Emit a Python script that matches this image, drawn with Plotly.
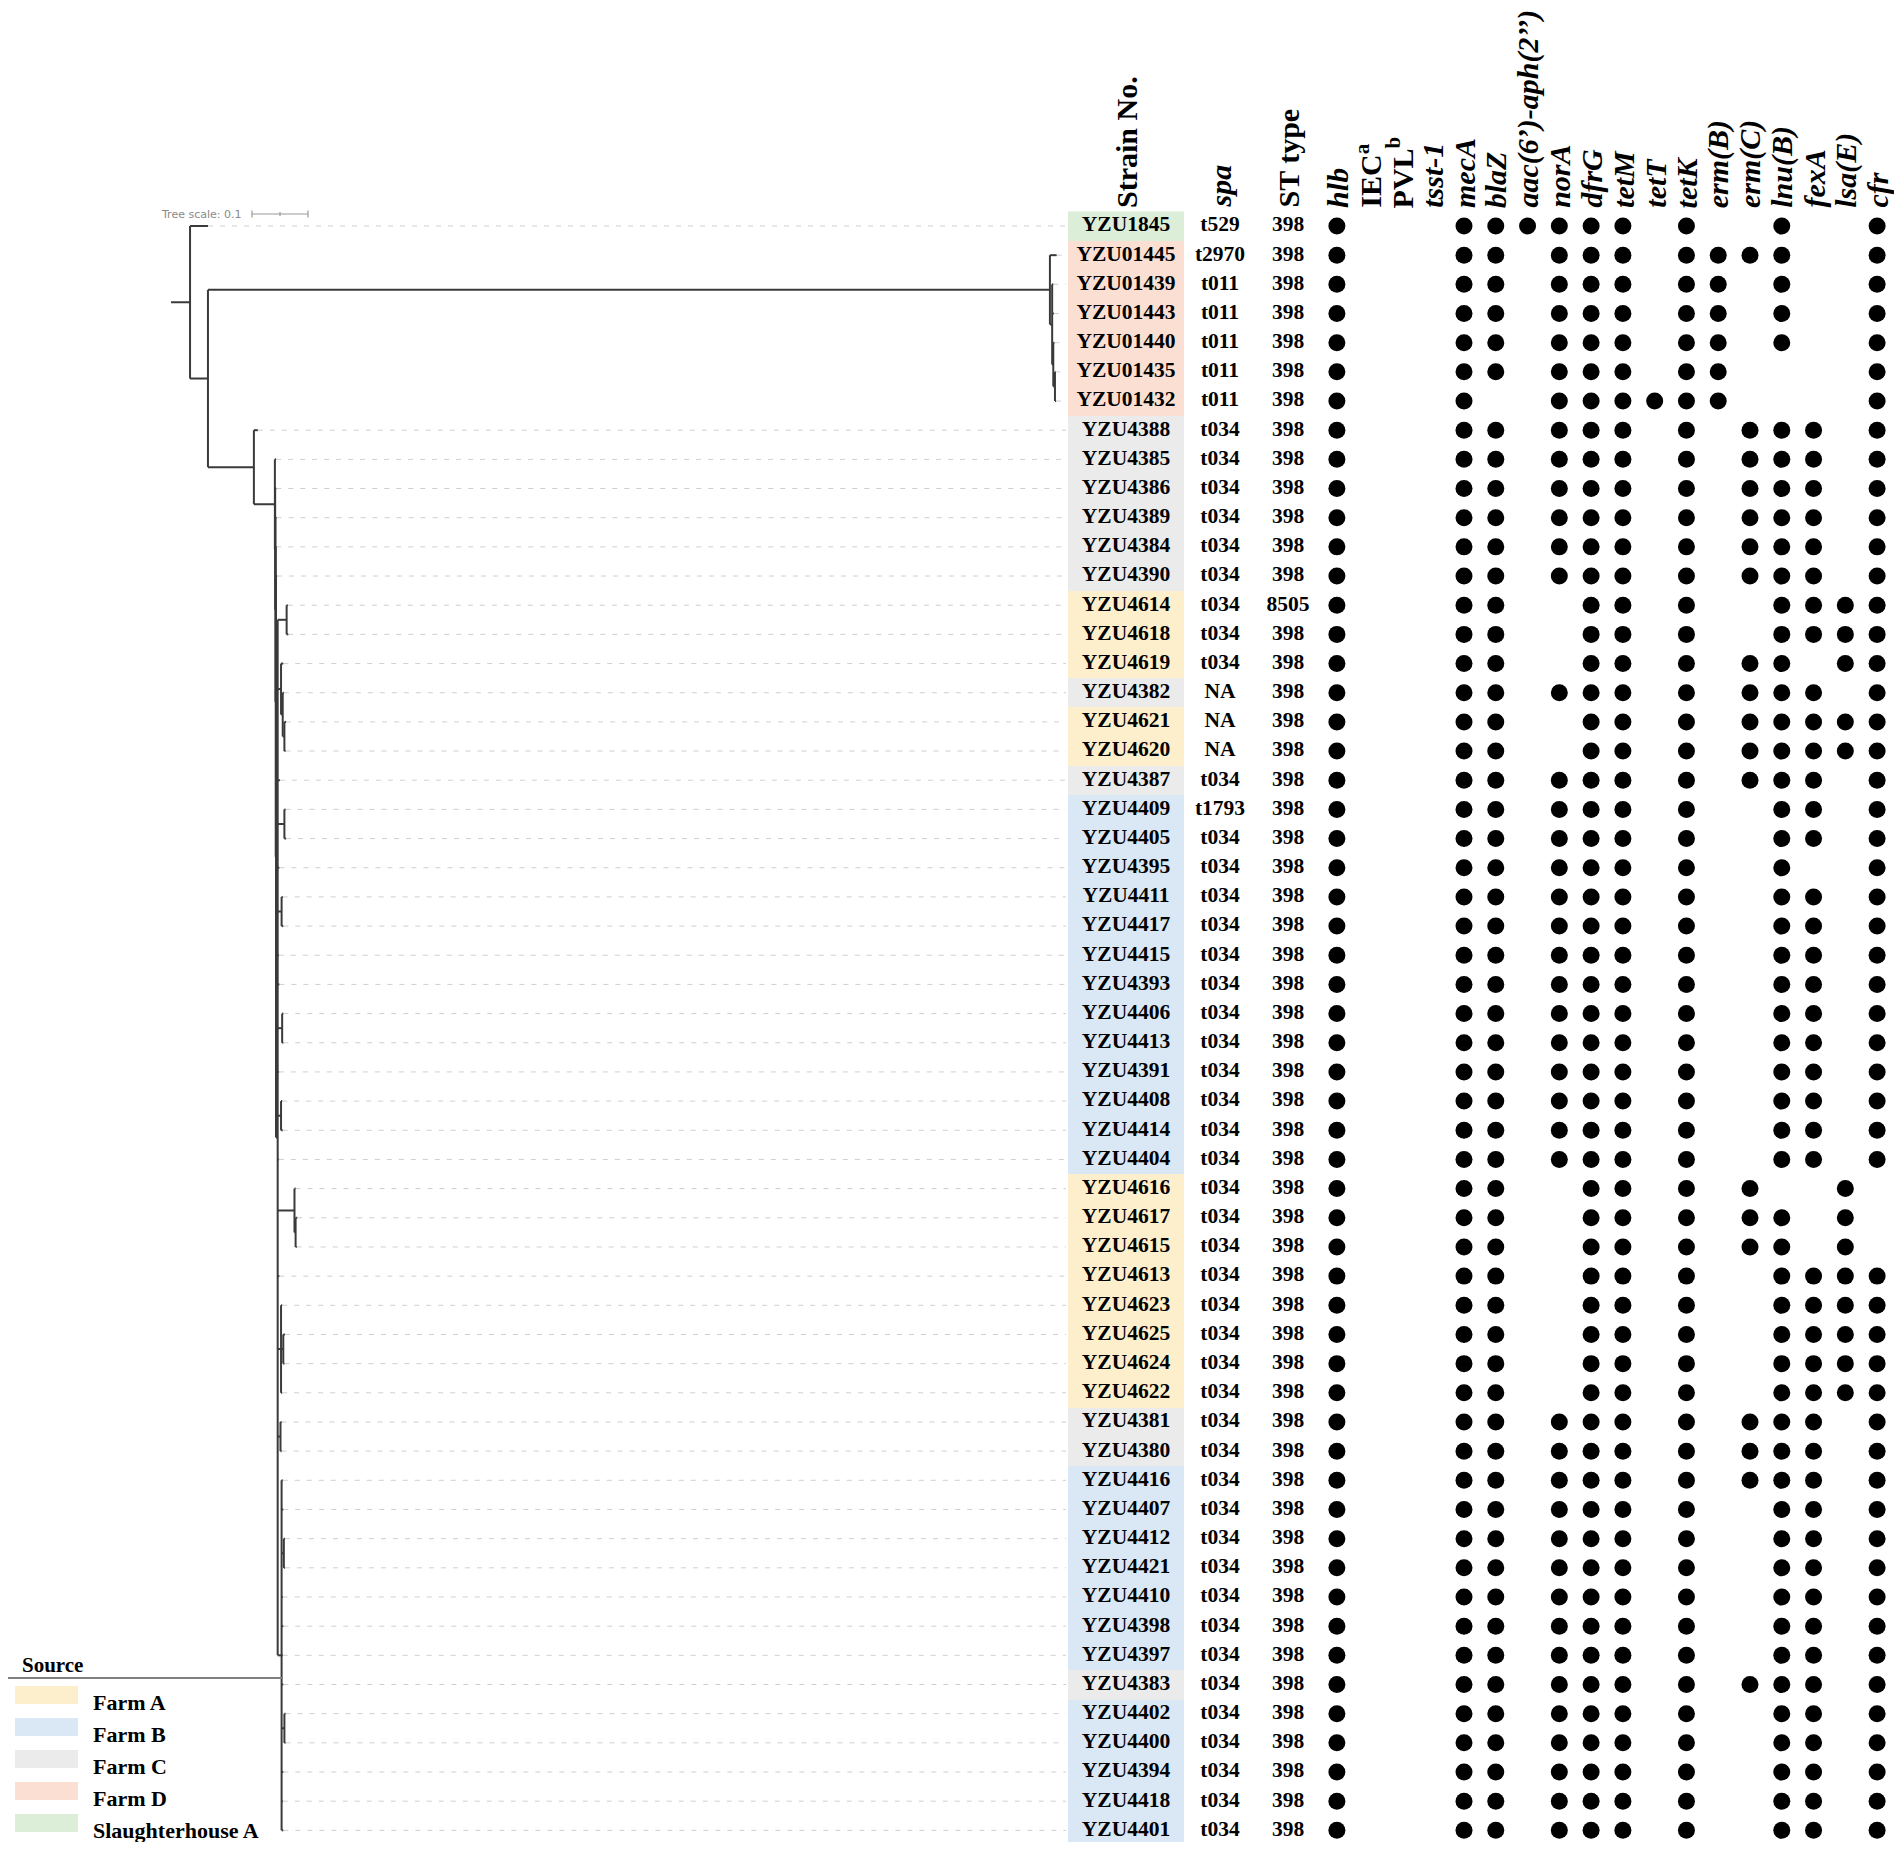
import plotly.graph_objects as go

# the page body adds an 8px margin, so the figure is a little smaller than the window
W, H = 1886, 1834
OFF = 8
SERIF = "Liberation Serif"


def fx(px):  # window pixel -> paper x
    return min(1.0, (px - OFF) / W)


def fy(py):  # window pixel -> paper y
    return 1 - (py - OFF) / H


# ---- data ---------------------------------------------------------------
strains = [
    "YZU1845", "YZU01445", "YZU01439", "YZU01443", "YZU01440", "YZU01435", "YZU01432",
    "YZU4388", "YZU4385", "YZU4386", "YZU4389", "YZU4384", "YZU4390",
    "YZU4614", "YZU4618", "YZU4619", "YZU4382", "YZU4621", "YZU4620", "YZU4387",
    "YZU4409", "YZU4405", "YZU4395", "YZU4411", "YZU4417", "YZU4415", "YZU4393",
    "YZU4406", "YZU4413", "YZU4391", "YZU4408", "YZU4414", "YZU4404",
    "YZU4616", "YZU4617", "YZU4615", "YZU4613", "YZU4623", "YZU4625", "YZU4624", "YZU4622",
    "YZU4381", "YZU4380", "YZU4416", "YZU4407", "YZU4412", "YZU4421", "YZU4410",
    "YZU4398", "YZU4397", "YZU4383", "YZU4402", "YZU4400", "YZU4394", "YZU4418", "YZU4401",
]

sources = (["Slaughterhouse A"] + ["Farm D"] * 6 + ["Farm C"] * 6 + ["Farm A"] * 3
           + ["Farm C"] + ["Farm A"] * 2 + ["Farm C"] + ["Farm B"] * 13 + ["Farm A"] * 8
           + ["Farm C"] * 2 + ["Farm B"] * 7 + ["Farm C"] + ["Farm B"] * 5)

spa_types = ["t529", "t2970"] + ["t011"] * 5 + ["t034"] * 9 + ["NA"] * 3 + ["t034", "t1793"] + ["t034"] * 35

st_types = ["398"] * 13 + ["8505"] + ["398"] * 42

genes = ["hlb", "IEC", "PVL", "tsst-1", "mecA", "blaZ", "aac(6')-aph(2'')", "norA", "dfrG",
         "tetM", "tetT", "tetK", "erm(B)", "erm(C)", "lnu(B)", "fexA", "lsa(E)", "cfr"]

gene_labels = ["<i>hlb</i>", "IEC<sup>a</sup>", "PVL<sup>b</sup>", "<i>tsst-1</i>", "<i>mecA</i>",
               "<i>blaZ</i>", "<i>aac(6’)-aph(2’’)</i>", "<i>norA</i>", "<i>dfrG</i>", "<i>tetM</i>",
               "<i>tetT</i>", "<i>tetK</i>", "<i>erm(B)</i>", "<i>erm(C)</i>", "<i>lnu(B)</i>",
               "<i>fexA</i>", "<i>lsa(E)</i>", "<i>cfr</i>"]

# presence (1) / absence (0) of each gene, one string per strain, same order as genes
profiles = [
    "100011111101001001",  # YZU1845
    "100011011101111001",  # YZU01445
    "100011011101101001",
    "100011011101101001",
    "100011011101101001",
    "100011011101100001",  # YZU01435
    "100010011111100001",  # YZU01432
    "100011011101011101",  # YZU4388
    "100011011101011101",
    "100011011101011101",
    "100011011101011101",
    "100011011101011101",
    "100011011101011101",  # YZU4390
    "100011001101001111",  # YZU4614
    "100011001101001111",
    "100011001101011011",  # YZU4619
    "100011011101011101",  # YZU4382
    "100011001101011111",  # YZU4621
    "100011001101011111",
    "100011011101011101",  # YZU4387
    "100011011101001101",  # YZU4409
    "100011011101001101",
    "100011011101001001",  # YZU4395
    "100011011101001101",  # YZU4411
    "100011011101001101",
    "100011011101001101",
    "100011011101001101",
    "100011011101001101",
    "100011011101001101",
    "100011011101001101",
    "100011011101001101",
    "100011011101001101",
    "100011011101001101",  # YZU4404
    "100011001101010010",  # YZU4616
    "100011001101011010",
    "100011001101011010",  # YZU4615
    "100011001101001111",  # YZU4613
    "100011001101001111",
    "100011001101001111",
    "100011001101001111",
    "100011001101001111",  # YZU4622
    "100011011101011101",  # YZU4381
    "100011011101011101",
    "100011011101011101",  # YZU4416
    "100011011101001101",  # YZU4407
    "100011011101001101",
    "100011011101001101",
    "100011011101001101",
    "100011011101001101",
    "100011011101001101",  # YZU4397
    "100011011101011101",  # YZU4383
    "100011011101001101",  # YZU4402
    "100011011101001101",
    "100011011101001101",
    "100011011101001101",
    "100011011101001101",  # YZU4401
]

source_names = ["Farm A", "Farm B", "Farm C", "Farm D", "Slaughterhouse A"]

tree_scale = 0.1

newick = (
    "(YZU1845:0.032,("
    "(YZU01445:0.012,(YZU01439:0.002,YZU01443:0.003,(YZU01440:0.002,"
    "(YZU01435:0.001,YZU01432:0.002):0.003):0.002):0.004):1.5035,"
    "(YZU4388:0.007,"
    "(YZU4385:0.002,(YZU4386:0.002,(YZU4389:0.002,(YZU4384:0.001,(YZU4390:0.002,"
    "((YZU4614:0.002,YZU4618:0.003):0.016,"
    "(YZU4619:0.004,(YZU4382:0.002,(YZU4621:0.003,YZU4620:0.002):0.003):0.003):0.006,"
    "YZU4387:0.004,"
    "(YZU4409:0.002,YZU4405:0.003):0.012,"
    "YZU4395:0.003,"
    "(YZU4411:0.002,YZU4417:0.003):0.007,"
    "YZU4415:0.002,"
    "YZU4393:0.003,"
    "(YZU4406:0.002,YZU4413:0.002):0.008,"
    "YZU4391:0.002,"
    "(YZU4408:0.002,YZU4414:0.003):0.006,"
    "YZU4404:0.002,"
    "(YZU4616:0.002,(YZU4617:0.003,YZU4615:0.002):0.002):0.030,"
    "YZU4613:0.003,"
    "(YZU4623:0.002,(YZU4625:0.003,YZU4624:0.002):0.004,YZU4622:0.002):0.006,"
    "(YZU4381:0.002,YZU4380:0.002):0.005,"
    "(YZU4416:0.002,YZU4407:0.003,(YZU4412:0.002,YZU4421:0.002):0.004,YZU4410:0.002,"
    "YZU4398:0.003,YZU4397:0.002,YZU4383:0.003,(YZU4402:0.002,YZU4400:0.002):0.005,"
    "YZU4394:0.003,YZU4418:0.002,YZU4401:0.003):0.007"
    "):0.003):0.0005):0.0005):0.0005):0.0005):0.0375"
    "):0.082):0.032):0.034;"
)

# ---- styles / layout constants -------------------------------------------------
source_colors = {"Farm A": "#FDEFCB", "Farm B": "#DAE7F4", "Farm C": "#EBEBEB",
                 "Farm D": "#FBDFD2", "Slaughterhouse A": "#DDEED8"}
PX_PER_UNIT = 560      # tree scale in pixels per substitution
ROOT_PX = 171          # left edge of the root stub (window px)
TREE_END_PX = 1066     # leaders stop at the strain column
ROW1_PX = 226          # centre of first row (window px)
ROW_PITCH = 29.17

rows = list(range(1, len(strains) + 1))
row_of = dict(zip(strains, rows))


# ---- tiny newick parser -------------------------------------------------------
def parse_newick(s):
    pos = 0

    def node():
        nonlocal pos
        children = []
        if s[pos] == "(":
            pos += 1
            while True:
                children.append(node())
                if s[pos] == ",":
                    pos += 1
                    continue
                pos += 1  # ')'
                break
        start = pos
        while s[pos] not in ":,);":
            pos += 1
        name = s[start:pos]
        length = 0.0
        if s[pos] == ":":
            pos += 1
            start = pos
            while s[pos] not in ",);":
                pos += 1
            length = float(s[start:pos])
        return {"name": name, "len": length, "children": children}

    return node()


tree = parse_newick(newick)
tx, ty = [], []
leaves = []


def place(n, x0):
    n["x"] = x0 + n["len"]
    if n["children"]:
        for c in n["children"]:
            place(c, n["x"])
        ys = [c["y"] for c in n["children"]]
        n["y"] = (ys[0] + ys[-1]) / 2
        tx.extend([n["x"], n["x"], None])
        ty.extend([ys[0], ys[-1], None])
    else:
        n["y"] = row_of[n["name"]]
        leaves.append(n)
    tx.extend([x0, n["x"], None])
    ty.extend([n["y"], n["y"], None])


place(tree, 0.0)

tree_xmin = (OFF - ROOT_PX) / PX_PER_UNIT
tree_xmax = (TREE_END_PX - ROOT_PX) / PX_PER_UNIT
lx, ly = [], []
for lf in leaves:
    lx.extend([lf["x"], tree_xmax, None])
    ly.extend([lf["y"], lf["y"], None])

fig = go.Figure()

# dashed leaders to the labels
fig.add_trace(go.Scatter(x=lx, y=ly, mode="lines", xaxis="x", yaxis="y", hoverinfo="skip",
                         line=dict(color="#cfcfcf", width=1, dash="5px,7px")))
# branches
fig.add_trace(go.Scatter(x=tx, y=ty, mode="lines", xaxis="x", yaxis="y", hoverinfo="skip",
                         line=dict(color="#3a3a3a", width=2)))

# scale bar
bar_x0 = (252 - ROOT_PX) / PX_PER_UNIT
bar_y = 1 + (214 - ROW1_PX) / ROW_PITCH
sx = [bar_x0, bar_x0 + tree_scale, None,
      bar_x0, bar_x0, None,
      bar_x0 + tree_scale / 2, bar_x0 + tree_scale / 2, None,
      bar_x0 + tree_scale, bar_x0 + tree_scale, None]
sy = [bar_y, bar_y, None,
      bar_y - 0.12, bar_y + 0.12, None,
      bar_y - 0.07, bar_y + 0.07, None,
      bar_y - 0.12, bar_y + 0.12, None]
fig.add_trace(go.Scatter(x=sx, y=sy, mode="lines", xaxis="x", yaxis="y", hoverinfo="skip",
                         line=dict(color="#9a9a9a", width=1.2)))

# strain column coloured by source
code = {name: i for i, name in enumerate(source_names)}
cscale = [[i / (len(source_names) - 1), source_colors[n]] for i, n in enumerate(source_names)]
fig.add_trace(go.Heatmap(x=["Strain No."], y=rows, z=[[code[s]] for s in sources],
                         colorscale=cscale, zmin=0, zmax=len(source_names) - 1,
                         showscale=False, hoverinfo="skip", xaxis="x2", yaxis="y"))

cell_font = dict(family=SERIF, size=21.5, color="black", weight="bold")
fig.add_trace(go.Scatter(x=["Strain No."] * len(rows), y=rows, text=strains, mode="text",
                         textfont=cell_font, xaxis="x2", yaxis="y", hoverinfo="skip"))
fig.add_trace(go.Scatter(x=["spa"] * len(rows), y=rows, text=spa_types, mode="text",
                         textfont=cell_font, xaxis="x3", yaxis="y", hoverinfo="skip"))
fig.add_trace(go.Scatter(x=["ST type"] * len(rows), y=rows, text=st_types, mode="text",
                         textfont=cell_font, xaxis="x4", yaxis="y", hoverinfo="skip"))

# gene presence dots
dx, dy = [], []
for r, prof in zip(rows, profiles):
    for g, flag in zip(genes, prof):
        if flag == "1":
            dx.append(g)
            dy.append(r)
fig.add_trace(go.Scatter(x=dx, y=dy, mode="markers", xaxis="x5", yaxis="y", hoverinfo="skip",
                         marker=dict(size=17, color="black", line=dict(width=0))))

# column headers
head_font = dict(family=SERIF, size=30, color="black", weight="bold")
annotations = [
    dict(x="Strain No.", xref="x2", text="Strain No."),
    dict(x="spa", xref="x3", text="<i>spa</i>"),
    dict(x="ST type", xref="x4", text="ST type"),
] + [dict(x=g, xref="x5", text=lab) for g, lab in zip(genes, gene_labels)]
for a in annotations:
    a.update(y=fy(210), yref="paper", yanchor="bottom", xanchor="center", textangle=-90,
             showarrow=False, font=head_font)

annotations.append(dict(x=bar_x0 - 0.016, y=bar_y, xref="x", yref="y", text=f"Tree scale: {tree_scale}",
                        xanchor="right", yanchor="middle", showarrow=False,
                        font=dict(family="DejaVu Sans", size=11, color="#8a8a8a")))

# source legend
shapes = [dict(type="line", xref="paper", yref="paper", x0=fx(7), x1=fx(283),
               y0=fy(1678), y1=fy(1678), line=dict(color="#808080", width=2))]
annotations.append(dict(x=fx(20), y=fy(1665), xref="paper", yref="paper", text="Source",
                        xanchor="left", yanchor="middle", showarrow=False,
                        font=dict(family=SERIF, size=21, color="black", weight="bold")))
for i, name in enumerate(source_names):
    yc = 1695 + 32 * i
    shapes.append(dict(type="rect", xref="paper", yref="paper", x0=fx(15), x1=fx(78),
                       y0=fy(yc + 9), y1=fy(yc - 9),
                       fillcolor=source_colors[name], line=dict(width=0)))
    annotations.append(dict(x=fx(91), y=fy(yc + 7), xref="paper", yref="paper", text=name,
                            xanchor="left", yanchor="middle", showarrow=False,
                            font=dict(family=SERIF, size=22, color="black", weight="bold")))

y_top = 1 - (ROW1_PX - OFF) / ROW_PITCH
y_bottom = y_top + H / ROW_PITCH

hidden = dict(visible=False, showgrid=False, zeroline=False)
fig.update_layout(
    width=W, height=H,
    margin=dict(l=0, r=0, t=0, b=0),
    paper_bgcolor="white", plot_bgcolor="white",
    showlegend=False,
    xaxis=dict(domain=[0, fx(TREE_END_PX)], range=[tree_xmin, tree_xmax], **hidden),
    xaxis2=dict(domain=[fx(1068), fx(1184)], range=[-0.5, 0.5], anchor="y", **hidden),
    xaxis3=dict(domain=[fx(1190), fx(1250)], range=[-0.5, 0.5], anchor="y", **hidden),
    xaxis4=dict(domain=[fx(1258), fx(1318)], range=[-0.5, 0.5], anchor="y", **hidden),
    xaxis5=dict(domain=[fx(1321), fx(1893)], range=[-0.5, len(genes) - 0.5], anchor="y",
                categoryorder="array", categoryarray=genes, **hidden),
    yaxis=dict(domain=[0, 1], range=[y_bottom, y_top], **hidden),
    annotations=annotations,
    shapes=shapes,
)

fig.write_html("out.html")
